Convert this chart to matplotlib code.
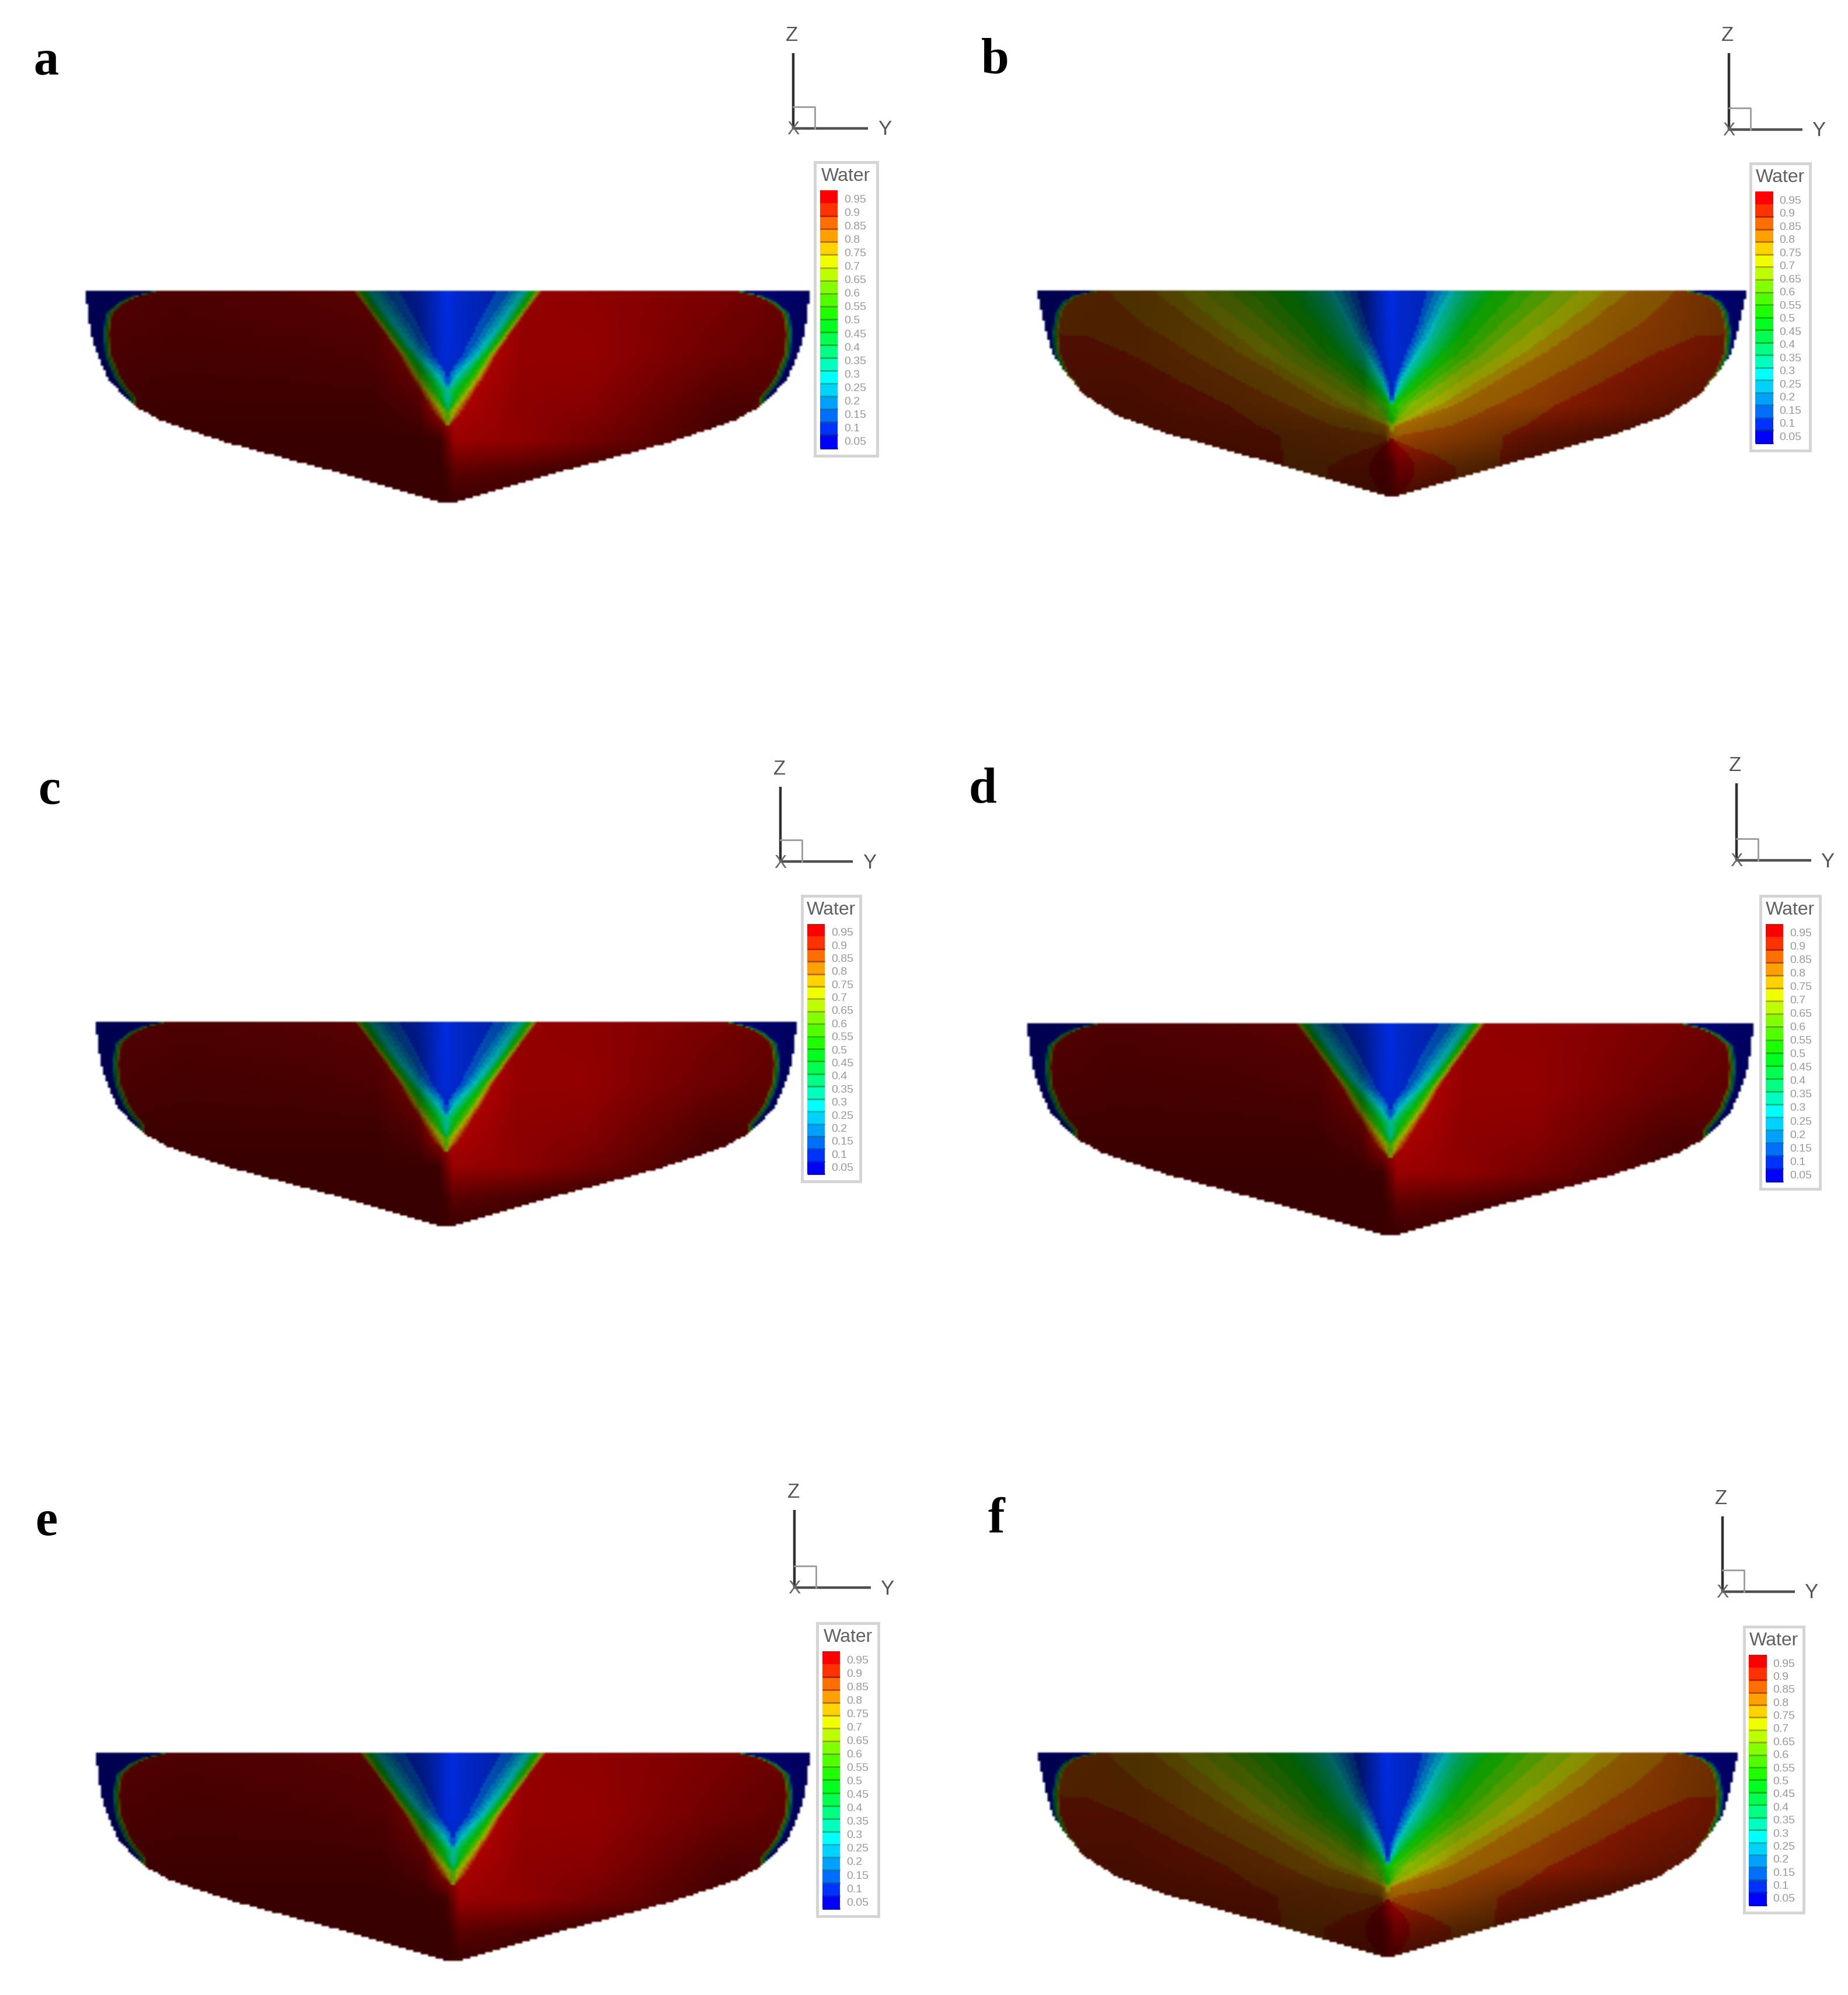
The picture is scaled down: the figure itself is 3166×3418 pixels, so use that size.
import numpy as np
from matplotlib import pyplot as plt
from matplotlib.patches import Rectangle

SCALE = 3166 / 1456  # picture coordinates below are in units of a 1456 wide view
W, H = 1456, 1572

letters = ['a', 'b', 'c', 'd', 'e', 'f']
letter_xy = [(36, 49), (784, 48), (39, 624), (774, 623), (37, 1200), (785, 1198)]
hull_boxes = [(67, 638, 229, 398), (817, 1376, 229, 393), (75, 628, 805, 968),
              (809, 1382, 806, 975), (75, 638, 1381, 1547), (817, 1369, 1381, 1544)]
styles = ['vee', 'fan', 'vee', 'vee', 'vee', 'fan']
# origin x, origin y, top of z axis, end of y axis
triads = [(625, 101, 42, 684), (1362, 102, 42, 1420), (615, 679, 620, 672),
          (1368, 678, 617, 1427), (626, 1251, 1190, 686), (1357, 1254, 1195, 1414)]
legend_boxes = [(642, 691, 128, 359), (1379, 1426, 129, 355), (632, 678, 706, 931),
                (1387, 1434, 706, 937), (644, 692, 1279, 1510), (1374, 1421, 1282, 1507)]

band_colors = ['#0000ff', '#0032ff', '#006eff', '#00a0ff', '#00d2ff', '#00ffff', '#00ffbe',
               '#00ff82', '#00ff50', '#00ff1e', '#1eff00', '#50ff00', '#82ff00', '#beff00',
               '#f0ff00', '#ffd200', '#ffa000', '#ff6e00', '#ff3200', '#ff0000']
legend_labels = ['0.95', '0.9', '0.85', '0.8', '0.75', '0.7', '0.65', '0.6', '0.55', '0.5',
                 '0.45', '0.4', '0.35', '0.3', '0.25', '0.2', '0.15', '0.1', '0.05']
legend_values = [0.95, 0.9, 0.85, 0.8, 0.75, 0.7, 0.65, 0.6, 0.55, 0.5,
                 0.45, 0.4, 0.35, 0.3, 0.25, 0.2, 0.15, 0.1, 0.05]

hull_z_vee = [0, .148, .289, .39, .45, .575, .7, .81, .97, 1]
hull_y_vee = [0, .303, .611, .79, .856, .936, .968, .989, 1, 1]
hull_z_fan = [0, .183, .314, .398, .50, .614, .7, .858, .97, 1]
hull_y_fan = [0, .367, .64, .776, .87, .925, .96, .985, 1, 1]

# air/water ring near the hull sides
ring_z_vee = [.5, .55, .6, .7, .8, .9, .95, .98, 1]
ring_y_vee = [.86, .885, .905, .928, .935, .925, .89, .85, .80]
ring_z_fan = [.55, .6, .7, .8, .9, .95, .98, 1]
ring_y_fan = [.885, .91, .935, .94, .93, .91, .88, .83]

# half width of each water contour at the rows in *_rows
vee_rows = [.36, .43, .54, .62, .7, .85, 1]
vee_levels = [.05, .15, .30, .60, .96]
vee_05 = [0, 0, 0, 0, .025, .06, .10]
vee_15 = [0, 0, 0, .01, .055, .11, .17]
vee_30 = [0, 0, 0, .04, .085, .155, .215]
vee_60 = [0, 0, .05, .085, .115, .18, .245]
vee_96 = [0, .04, .08, .108, .133, .195, .26]

fan_rows = [0, .2, .25, .3, .35, .45, .57, .7, .78, .85, 1]
fan_levels = [.05, .10, .30, .50, .65, .80, .86, .91]
fan_05 = [0, 0, 0, 0, 0, 0, 0, .01, .02, .03, .05]
fan_10 = [0, 0, 0, 0, 0, 0, .01, .04, .06, .075, .10]
fan_30 = [0, 0, 0, 0, 0, 0, .03, .08, .11, .13, .18]
fan_50 = [0, 0, 0, 0, 0, 0, .07, .15, .19, .22, .29]
fan_65 = [0, 0, 0, 0, 0, .05, .15, .26, .31, .36, .46]
fan_80 = [0, 0, 0, 0, .01, .18, .30, .43, .50, .56, .67]
fan_86 = [0, 0, 0, .02, .20, .32, .46, .60, .67, .74, .83]
fan_91 = [.38, .38, .39, .39, .42, .50, .64, .78, .90, 1.5, 1.5]

# lens of higher water fraction at the keel of the fan panels
lens_z = [0, .05, .1, .15, .2, .25, .29]
lens_outer = [.02, .14, .18, .18, .13, .05, 0]
lens_inner = [0, .04, .06, .065, .05, .02, 0]

# surface brightness
shade_y = [-1, -.75, -.4, -.2, -.08, -.02, 0, .02, .2, .4, .75, 1]
shade_z = [0, .15, .3, .45, .7, 1]
vee_shade = [[.22, .22, .22, .22, .22, .22, .22, .22, .22, .2, .2, .2],
             [.22, .22, .22, .22, .22, .22, .26, .36, .3, .22, .2, .2],
             [.22, .22, .22, .22, .22, .24, .42, .6, .56, .45, .25, .2],
             [.24, .24, .24, .24, .3, .6, .68, .68, .55, .52, .3, .28],
             [.3, .27, .28, .3, .45, .8, .85, .8, .58, .58, .42, .35],
             [.33, .3, .33, .35, .55, .8, .9, .8, .58, .56, .48, .38]]
fan_shade = [[.22, .22, .22, .22, .22, .22, .25, .25, .22, .22, .2, .2],
             [.25, .25, .25, .26, .26, .23, .28, .42, .32, .25, .2, .2],
             [.25, .25, .27, .28, .3, .3, .52, .6, .5, .36, .22, .2],
             [.27, .27, .32, .36, .38, .55, .75, .75, .6, .55, .38, .3],
             [.3, .3, .36, .37, .42, .75, .85, .8, .62, .6, .48, .38],
             [.32, .3, .35, .38, .42, .8, .9, .8, .62, .6, .52, .38]]


def contour_field(y, zi, rows, columns, levels):
    hw = np.array([np.interp(zi, rows, c) for c in columns])
    hw = hw + np.arange(len(hw)) * 1e-6
    return np.interp(np.abs(y), hw, levels)


def hull_image(style, ny=300, nz=105):
    # low resolution on purpose, the reference is a blurred screenshot
    y = np.linspace(-1.04, 1.04, ny)
    z = np.linspace(1.04, -0.04, nz)
    rgb = np.array([plt.matplotlib.colors.to_rgb(c) for c in band_colors])
    if style == 'vee':
        rows, columns, levels = vee_rows, [vee_05, vee_15, vee_30, vee_60, vee_96], vee_levels
        hull_z, hull_y, ring_z, ring_y, table = hull_z_vee, hull_y_vee, ring_z_vee, ring_y_vee, vee_shade
    else:
        rows, columns, levels = fan_rows, [fan_05, fan_10, fan_30, fan_50, fan_65, fan_80, fan_86, fan_91], fan_levels
        hull_z, hull_y, ring_z, ring_y, table = hull_z_fan, hull_y_fan, ring_z_fan, ring_y_fan, fan_shade
    by_row = np.array([np.interp(y, shade_y, r) for r in table])
    img = np.ones((nz, ny, 3))
    for i, zi in enumerate(z):
        if zi > 1 or zi < 0:
            continue
        w = contour_field(y, zi, rows, columns, levels)
        rim = np.interp(zi, ring_z, ring_y)
        w = np.minimum(w, np.interp(np.abs(y), [rim, rim + .022], [.96, .03]))
        if style == 'fan' and zi < lens_z[-1]:
            a = np.interp(zi, lens_z, lens_inner)
            b = max(np.interp(zi, lens_z, lens_outer), a + .004)
            w = np.maximum(w, np.interp(np.abs(y), [a, a + .003, b, b + .003], [.96, .93, .92, 0]))
        idx = np.clip((w / .05).astype(int), 0, 19)
        bright = np.array([np.interp(zi, shade_z, by_row[:, j]) for j in range(ny)])
        inside = np.abs(y) <= np.interp(zi, hull_z, hull_y)
        img[i, inside] = rgb[idx[inside]] * bright[inside, None]
    return img


def add_axes_px(x0, x1, y0, y1):
    ax = fig.add_axes([x0 / W, 1 - y1 / H, (x1 - x0) / W, (y1 - y0) / H])
    ax.axis('off')
    return ax


fig = plt.figure(figsize=(31.66, 34.18), dpi=100)
images = {'vee': hull_image('vee'), 'fan': hull_image('fan')}

for box, style in zip(hull_boxes, styles):
    x0, x1, y0, y1 = box
    mx, my = (x1 - x0) * .02, (y1 - y0) * .04
    ax = add_axes_px(x0 - mx, x1 + mx, y0 - my, y1 + my)
    ax.imshow(images[style], extent=(-1.04, 1.04, -.04, 1.04), aspect='auto', interpolation='bilinear')

for box in legend_boxes:
    x0, x1, y0, y1 = box
    h = y1 - y0
    ax = add_axes_px(x0, x1, y0, y1)
    ax.set_xlim(0, x1 - x0)
    ax.set_ylim(h, 0)
    ax.add_patch(Rectangle((0, 0), x1 - x0, h, fc='white', ec='#d4d4d4', lw=3.5, clip_on=False))
    ax.text((x1 - x0) / 2, 11, 'Water', ha='center', va='center', fontsize=23, color='#606060',
            family='Liberation Sans')
    bar_top, bar_h = 22, h - 28
    for i, c in enumerate(band_colors):
        yb = bar_top + bar_h * (1 - (i + 1) / 20)
        ax.bar(11, bar_h / 20, width=14, bottom=yb, color=c, align='center', lw=0)
        rgb = np.array(plt.matplotlib.colors.to_rgb(c)) * .7
        if i < 19:
            ax.plot([4, 18], [yb + bar_h / 20, yb + bar_h / 20], color=rgb, lw=2, solid_capstyle='butt')
    for v, lab in zip(legend_values, legend_labels):
        pos = .0226 + (v - .05) * 1.045
        ax.text(23, bar_top + bar_h * (1 - pos), lab, ha='left', va='center', fontsize=14,
                color='#9a9a9a', family='Liberation Sans')

canvas = fig.add_axes([0, 0, 1, 1])
canvas.set_xlim(0, W)
canvas.set_ylim(H, 0)
canvas.axis('off')
canvas.patch.set_alpha(0)

for (ox, oy, zt, ye) in triads:
    canvas.plot([ox, ox], [oy, zt], color='#303030', lw=3.2, solid_capstyle='butt')
    canvas.plot([ox, ye], [oy, oy], color='#505050', lw=3.2, solid_capstyle='butt')
    canvas.plot([ox, ox + 17, ox + 17], [oy - 17, oy - 17, oy], color='#9a9a9a', lw=2)
    canvas.text(ox - 1, zt - 14, 'Z', ha='center', va='center', fontsize=25, color='#555555', family='Liberation Sans')
    canvas.text(ye + 13, oy + 1, 'Y', ha='center', va='center', fontsize=25, color='#555555', family='Liberation Sans')
    canvas.text(ox, oy + 1, 'X', ha='center', va='center', fontsize=23, color='#666666', family='Liberation Sans')

for t, (lx, ly) in zip(letters, letter_xy):
    canvas.text(lx, ly, t, ha='center', va='center', fontsize=62, fontweight='bold', family='Liberation Serif')

fig.savefig('out.png', dpi=100)
